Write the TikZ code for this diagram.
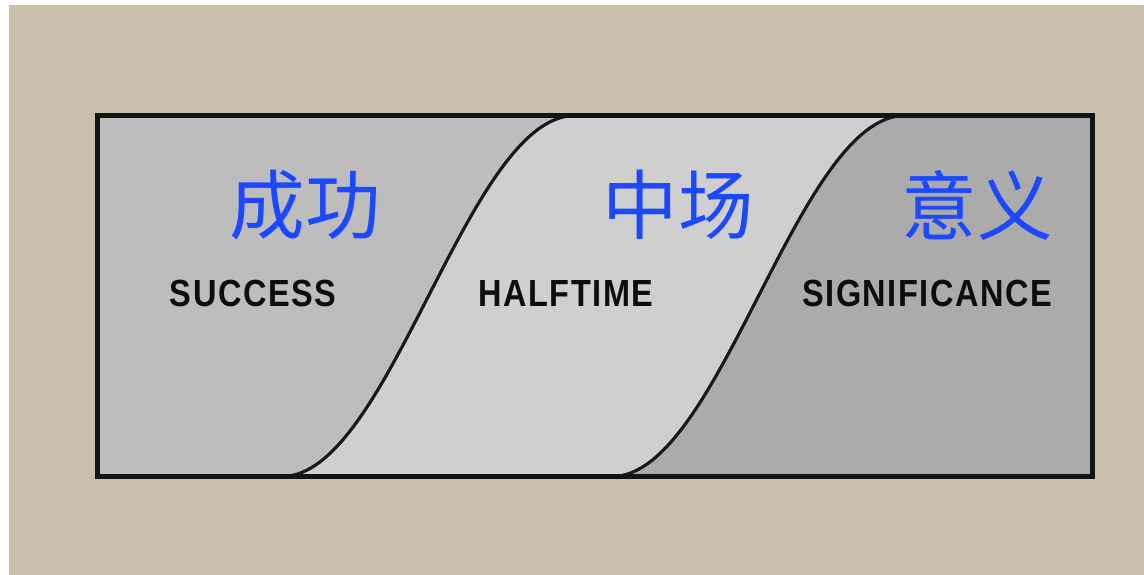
\documentclass[tikz,border=0pt]{standalone}
\usepackage{fontspec}
\newfontfamily\cjk{Noto Sans CJK SC}
\newfontfamily\labelfont[FakeStretch=0.86,LetterSpace=4]{Liberation Sans}
\definecolor{beige}{RGB}{201,193,174}
\definecolor{phaseA}{RGB}{189,189,189}
\definecolor{phaseB}{RGB}{207,207,207}
\definecolor{phaseC}{RGB}{171,171,171}
\definecolor{zhblue}{RGB}{28,72,255}

\begin{document}
\begin{tikzpicture}[x=0.02cm,y=-0.02cm,
		zh/.style={font=\cjk\fontsize{43}{43}\selectfont, text=zhblue, inner sep=0pt},
		en/.style={font=\labelfont\bfseries\fontsize{21.5}{21.5}\selectfont, text=black!95, inner sep=0pt}]
			\useasboundingbox (0,0) rectangle (1144,575);
			\fill[white] (0,0) rectangle (1144,575);
			\fill[beige] (9,5) rectangle (1144,575);
			\fill[phaseA] (97.5,115.5) rectangle (1092.5,476.5);
			\fill[phaseB] 
				(282,476.5) .. controls (390,476.5) and (467,115.5) .. (575,115.5)
				-- (1092.5,115.5) -- (1092.5,476.5) -- cycle;
			\fill[phaseC] 
				(612,476.5) .. controls (720,476.5) and (797,115.5) .. (905,115.5)
				-- (1092.5,115.5) -- (1092.5,476.5) -- cycle;
			\draw[line width=1.8pt, black!90] 
				(282,476.5) .. controls (390,476.5) and (467,115.5) .. (575,115.5);
			\draw[line width=1.8pt, black!90] 
				(612,476.5) .. controls (720,476.5) and (797,115.5) .. (905,115.5);
			\draw[line width=2.8pt, black!92] (97.5,115.5) rectangle (1092.5,476.5);
			% labels
			\node[zh] (chenggong) at (305,205) {成功};
			\node[zh] (zhongchang) at (678,205) {中场};
			\node[zh] (yiyi) at (977,205) {意义};
			\node[en] (success) at (253,293.5) {SUCCESS};
			\node[en] (halftime) at (566,293.5) {HALFTIME};
			\node[en] (significance) at (927,293.5) {SIGNIFICANCE};
		\end{tikzpicture}
\end{document}
